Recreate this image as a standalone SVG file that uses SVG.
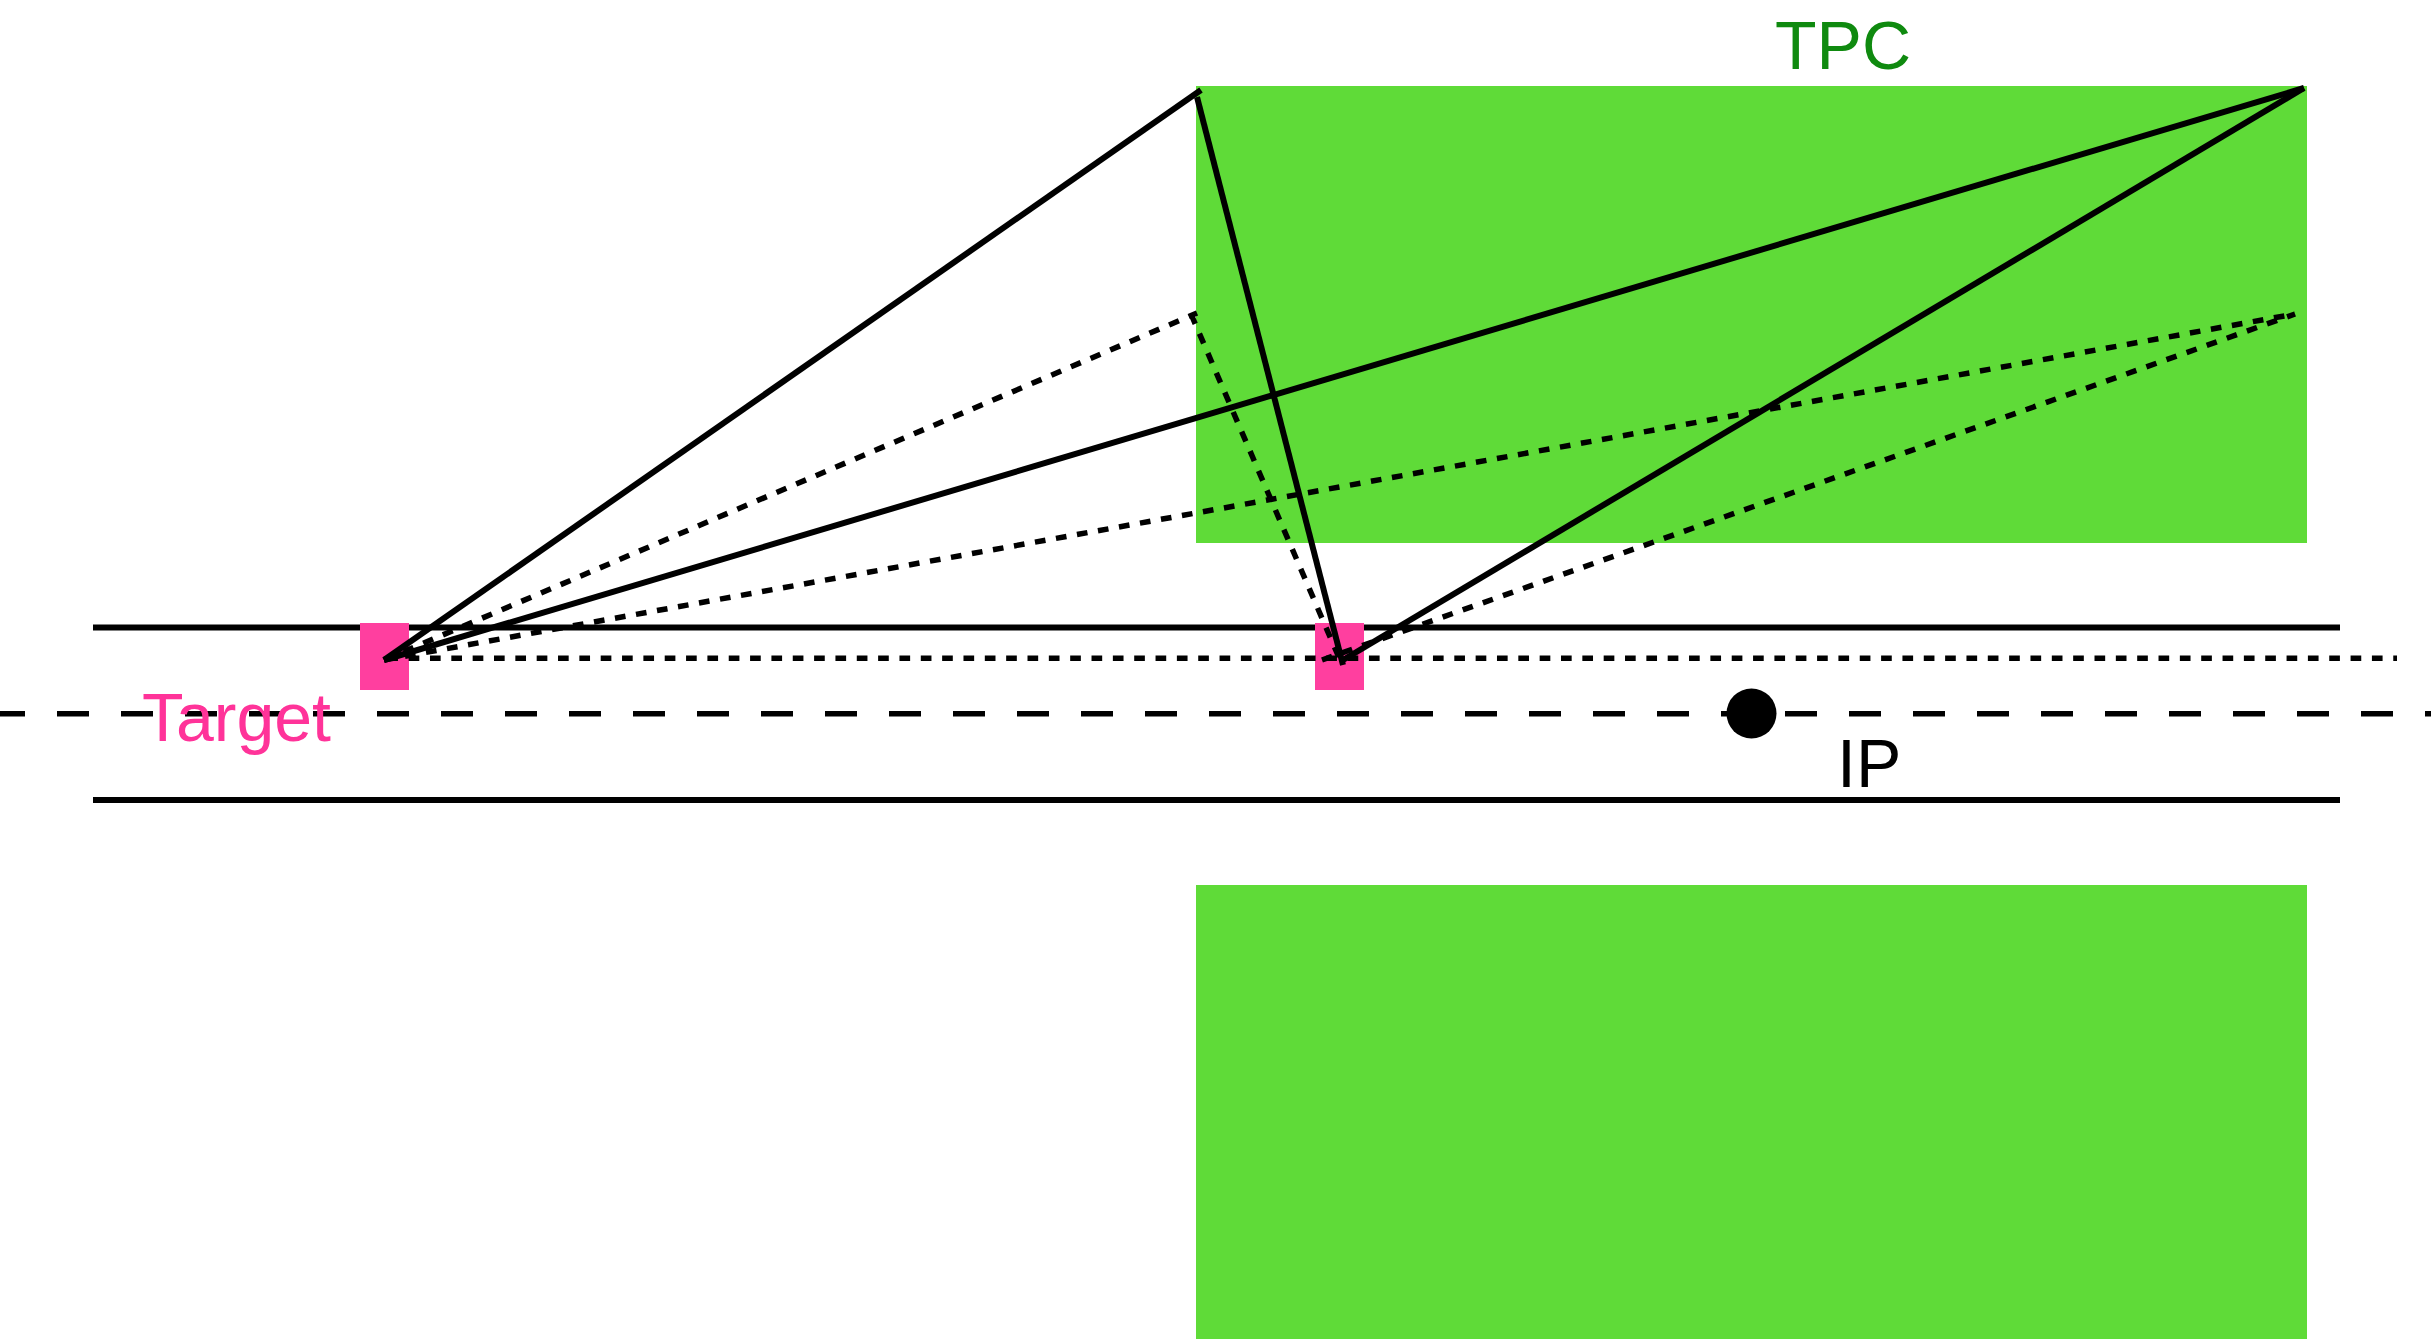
<svg xmlns="http://www.w3.org/2000/svg" width="2431" height="1339" viewBox="0 0 2431 1339">
<style>
.tpc{fill:#5fdb38}
.tgt{fill:#ff3f9f}
.s{stroke:#000;stroke-width:6;fill:none}
.d{stroke:#000;stroke-width:5.500;fill:none;stroke-dasharray:10.67 10.67}
.axis{stroke:#000;stroke-width:5.600;fill:none;stroke-dasharray:32 32}
text{font-family:"Liberation Sans",Arial,sans-serif;font-size:68px}
</style>
<rect width="2431" height="1339" fill="#fff"/>
<g id="tpc-top"><rect class="tpc" x="1196" y="86" width="1111" height="457"/></g>
<g id="tpc-bottom"><rect class="tpc" x="1196" y="885" width="1111" height="454"/></g>
<g id="beam-lines">
<line class="s" x1="93" y1="627.500" x2="2340" y2="627.500"/>
<line class="s" x1="93" y1="800" x2="2340" y2="800"/>
<line class="axis" x1="-7" y1="713.800" x2="2431" y2="713.800"/>
</g>
<g id="target-1"><rect class="tgt" x="360" y="623" width="49" height="67"/></g>
<g id="target-2"><rect class="tgt" x="1315" y="623" width="49" height="67"/></g>
<g id="connectors">
<line class="d" x1="387.300" y1="658.200" x2="2397" y2="658.200"/>
<line class="d" x1="384" y1="660" x2="1197" y2="313"/>
<line class="d" x1="1191" y1="314" x2="1340" y2="660"/>
<line class="d" x1="384" y1="660" x2="2295" y2="314"/>
<line class="d" x1="1322" y1="660" x2="2295" y2="314"/>
<line class="s" x1="384" y1="660" x2="1201" y2="90"/>
<line class="s" x1="1197" y1="97" x2="1343" y2="665"/>
<line class="s" x1="384" y1="660" x2="2304" y2="88"/>
<line class="s" x1="1343" y1="660" x2="2304" y2="88"/>
</g>
<g id="ip"><circle cx="1751.500" cy="713.500" r="25" fill="#000"/><text x="1837" y="787">IP</text></g>
<g id="target-label"><text x="142" y="741" fill="#ff3399">Target</text></g>
<g id="tpc-label"><text x="1775" y="69" fill="#0f8a0f">TPC</text></g>
</svg>
